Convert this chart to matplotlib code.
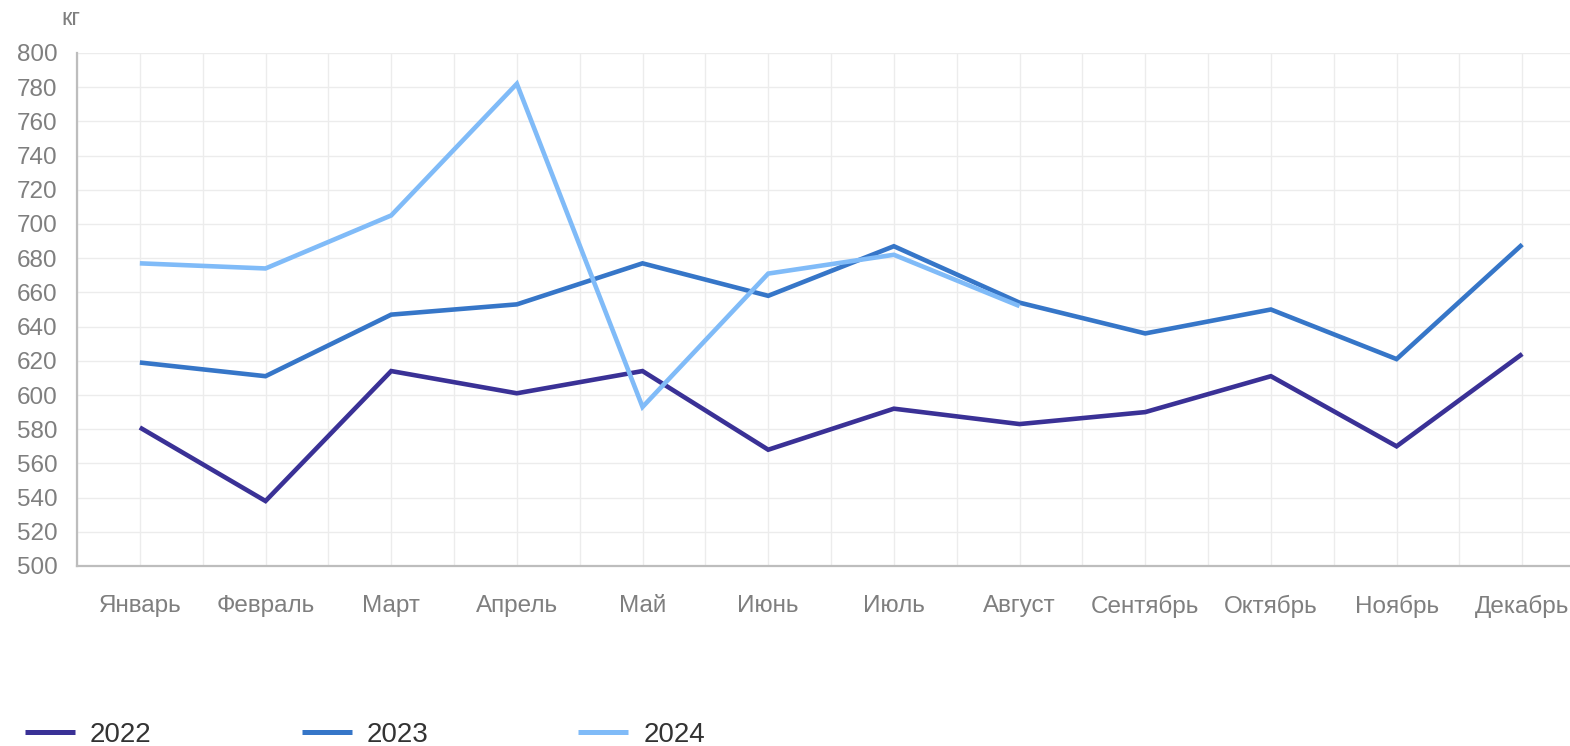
import matplotlib
matplotlib.use("Agg")
import matplotlib.pyplot as plt
from matplotlib.ticker import MultipleLocator

months = ["Январь", "Февраль", "Март", "Апрель", "Май", "Июнь", "Июль",
          "Август", "Сентябрь", "Октябрь", "Ноябрь", "Декабрь"]
s2022 = [581, 538, 614, 601, 614, 568, 592, 583, 590, 611, 570, 624]
s2023 = [619, 611, 647, 653, 677, 658, 687, 654, 636, 650, 621, 688]
s2024 = [677, 674, 705, 782, 593, 671, 682, 652]
series = [("2022", s2022, "#3a3196"), ("2023", s2023, "#3676c8"), ("2024", s2024, "#80bbf8")]
y_ticks = list(range(500, 801, 20))

plt.rcParams['font.family'] = ['Liberation Sans', 'DejaVu Sans']

W, H = 1570, 746
fig = plt.figure(figsize=(W / 100, H / 100), dpi=100)
ax = fig.add_axes([77 / W, 1 - 566 / H, 1 - 77 / W, (566 - 53) / H])

x = list(range(len(months)))
for name, vals, col in series:
    ax.plot(x[:len(vals)], vals, color=col, lw=3.3, label=name,
            solid_joinstyle='miter', solid_capstyle='butt', zorder=3)

ax.set_ylim(500, 800)
ax.set_xlim(-0.5, 11.38)
ax.set_yticks(y_ticks)
ax.set_xticks(x)
ax.set_xticklabels(months)
ax.xaxis.set_minor_locator(MultipleLocator(0.5))
ax.grid(True, which='both', axis='x', color='#ececec', lw=1.0, zorder=0)
ax.grid(True, which='major', axis='y', color='#ececec', lw=1.0, zorder=0)
ax.tick_params(axis='both', which='both', length=0)
ax.tick_params(axis='y', labelsize=17.5, labelcolor='#7f7f7f', pad=14)
ax.tick_params(axis='x', labelsize=17.5, labelcolor='#7f7f7f', pad=21)
for side in ['top', 'right']:
    ax.spines[side].set_visible(False)
for side in ['left', 'bottom']:
    ax.spines[side].set_color('#bdbdbd')
    ax.spines[side].set_linewidth(1.6)
ax.set_axisbelow(True)

fig.text(61 / W, 1 - 19 / H, "кг", fontsize=17, color='#7f7f7f', va='center', ha='left')

leg = fig.legend(loc='center left', bbox_to_anchor=(25 / W, 1 - 735 / H), ncol=3,
                 frameon=False, fontsize=20, handlelength=1.8, handletextpad=0.54,
                 columnspacing=5.4, borderaxespad=0, borderpad=0)
for t in leg.get_texts():
    t.set_color('#333333')
for l in leg.get_lines():
    l.set_linewidth(3.6)

fig.savefig("out.png", dpi=100)
